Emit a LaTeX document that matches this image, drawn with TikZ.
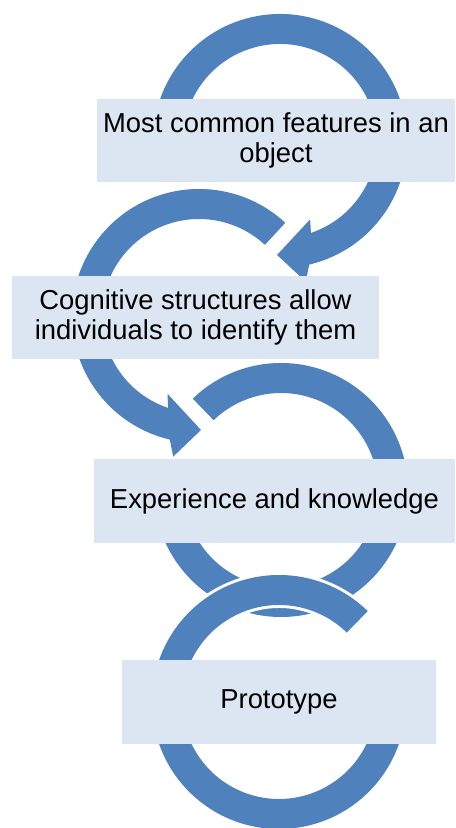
\documentclass[tikz,border=0pt]{standalone}
\usepackage{fontspec}
\setmainfont{Liberation Sans}
\definecolor{ringblue}{RGB}{79,129,189}
\definecolor{boxblue}{RGB}{220,230,242}

\begin{document}
\begin{tikzpicture}[
    x=0.5pt, y=0.5pt,
    ring/.style={fill=ringblue, preaction={draw=white, line width=3pt}},
    box/.style={rectangle, fill=boxblue, inner sep=0pt, align=center,
        font=\fontsize{13.7}{14.6}\selectfont}
]
\useasboundingbox (0,0) rectangle (455,828);

% Ring centres
\coordinate (c1) at (280,687);
\coordinate (c2) at (199,512);
\coordinate (c3) at (281,338);
\coordinate (c4) at (279,126);

% Ring 1
\begin{scope}[shift={(c1)}]
\path[ring] (192:127) arc[start angle=192, end angle=-76.7, radius=127]
    -- (-79.6:143) -- (-91.5:114) -- (-69:84) -- (-71.4:97)
    arc[start angle=-71.4, end angle=192, radius=97] -- cycle;
\end{scope}

% Ring 2
\begin{scope}[shift={(c2)}]
\path[ring] (47.2:127) arc[start angle=47.2, end angle=256.7, radius=127]
    -- (259.6:143) -- (271:114) -- (248:84) -- (251.4:97)
    arc[start angle=251.4, end angle=47.2, radius=97] -- cycle;
\end{scope}

% Ring 3
\begin{scope}[shift={(c3)}]
\path[ring] (134:127) arc[start angle=134, end angle=-190, radius=127]
    -- (-190:97) arc[start angle=-190, end angle=134, radius=97] -- cycle;
\end{scope}

% Ring 4
\begin{scope}[shift={(c4)}]
\path[ring] (45.7:127) arc[start angle=45.7, end angle=345, radius=127]
    -- (345:97) arc[start angle=345, end angle=45.7, radius=97] -- cycle;
\end{scope}

% Text boxes
\node[box, minimum width=179pt, minimum height=41.5pt] (T1) at (276,687.5)
    {Most common features in an\\object};
\node[box, minimum width=183.5pt, minimum height=41.5pt] (T2) at (195.5,510.5)
    {Cognitive structures allow\\individuals to identify them};
\node[box, minimum width=180.5pt, minimum height=42pt] (T3) at (274.5,327)
    {Experience and knowledge};
\node[box, minimum width=157pt, minimum height=42pt] (T4) at (279,126)
    {Prototype};

\end{tikzpicture}
\end{document}
